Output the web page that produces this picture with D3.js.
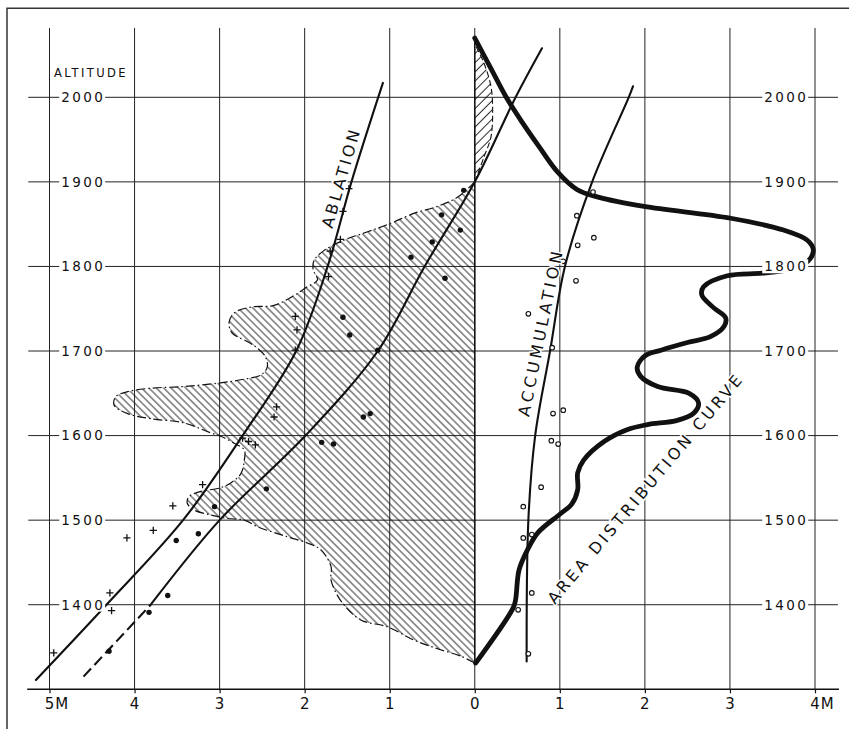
<!DOCTYPE html>
<html>
<head>
<meta charset="utf-8">
<script src="https://cdn.jsdelivr.net/npm/d3@7"></script>
<style>
  html, body { margin: 0; padding: 0; background: #fff; }
  svg { display: block; }
  text { font-family: "DejaVu Sans", "Liberation Sans", sans-serif; fill: #111; }
</style>
</head>
<body>
<script>
// Balance (m of water) on the horizontal axis, altitude (m) on the vertical axis.
const xTickValues = [-5, -4, -3, -2, -1, 0, 1, 2, 3, 4];
const xTickLabels = ["5M", "4", "3", "2", "1", "0", "1", "2", "3", "4M"];
const altitudeTicks = [1400, 1500, 1600, 1700, 1800, 1900, 2000];

// Ablation curve
const ablationCurve = [[-5.16, 1311], [-4.33, 1400], [-3.43, 1500], [-2.73, 1600],
  [-2.10, 1700], [-1.73, 1800], [-1.45, 1900], [-1.08, 2017]];

// Net balance curve (dashed where extrapolated below 1400 m)
const balanceCurveLow = [[-4.60, 1315], [-4.21, 1357], [-3.81, 1400]];
const balanceCurve = [[-3.81, 1400], [-3.00, 1500], [-1.99, 1600], [-1.14, 1700],
  [-0.59, 1800], [0, 1900], [0.48, 2000], [0.79, 2058]];

// Accumulation curve
const accumulationCurve = [[0.61, 1333], [0.63, 1500], [0.71, 1600], [0.885, 1700],
  [1.06, 1800], [1.38, 1900], [1.81, 2000], [1.86, 2013]];

// Area distribution curve (km² per altitude band)
const areaDistribution = [[0, 2070], [0.18, 2036], [0.37, 2000], [0.56, 1970], [0.76, 1941],
  [0.97, 1912], [1.20, 1891], [1.45, 1882], [1.99, 1871], [3.01, 1857], [3.63, 1843], [3.91, 1831],
  [3.98, 1820], [3.95, 1810], [3.86, 1802], [3.68, 1796], [3.38, 1792], [2.97, 1789],
  [2.69, 1776], [2.67, 1766], [2.81, 1751], [2.95, 1739], [2.93, 1729], [2.77, 1717],
  [2.50, 1710], [2.19, 1701], [2.01, 1695], [1.91, 1681], [1.95, 1670], [2.15, 1658],
  [2.52, 1650], [2.63, 1639], [2.58, 1627], [2.38, 1618], [2.03, 1613], [1.79, 1607],
  [1.52, 1593], [1.28, 1571], [1.21, 1556], [1.21, 1536], [1.14, 1519], [1.00, 1507],
  [0.74, 1485], [0.62, 1465], [0.52, 1441], [0.48, 1406], [0.45, 1396], [0.01, 1331]];

// Total balance zones (balance × area)
const negativeZone = [[0, 1900], [-0.20, 1882], [-0.44, 1871], [-0.71, 1863], [-0.99, 1851],
  [-1.26, 1841], [-1.54, 1831], [-1.77, 1819], [-1.89, 1807], [-1.90, 1796], [-1.85, 1784],
  [-1.97, 1776], [-2.12, 1766], [-2.36, 1754], [-2.63, 1752], [-2.83, 1745], [-2.89, 1733],
  [-2.85, 1721], [-2.67, 1711], [-2.55, 1703], [-2.46, 1693], [-2.44, 1681], [-2.51, 1672],
  [-2.75, 1666], [-3.02, 1662], [-3.42, 1658], [-3.81, 1656], [-4.08, 1652], [-4.22, 1646],
  [-4.24, 1636], [-4.08, 1626], [-3.81, 1620], [-3.42, 1615], [-3.10, 1603], [-2.98, 1599],
  [-2.83, 1591], [-2.71, 1583], [-2.71, 1571], [-2.75, 1555], [-2.87, 1544], [-3.00, 1538],
  [-3.22, 1534], [-3.36, 1528], [-3.38, 1520], [-3.30, 1512], [-3.10, 1506], [-2.91, 1502],
  [-2.71, 1500], [-2.55, 1492], [-2.32, 1484], [-2.16, 1479], [-1.97, 1473], [-1.81, 1465],
  [-1.69, 1445], [-1.69, 1429], [-1.57, 1404], [-1.34, 1382], [-1.03, 1374], [-0.71, 1358],
  [-0.44, 1348], [-0.16, 1339], [0, 1331]];
const positiveZone = [[0, 1900], [0.11, 1930], [0.19, 1953], [0.21, 1985], [0.19, 2013],
  [0.11, 2040], [0.01, 2062], [0, 2068]];

// Stake and pit measurements
const ablationStakes = [[-4.95, 1343], [-4.29, 1414], [-4.27, 1393], [-4.09, 1479], [-3.78, 1488],
  [-3.55, 1517], [-3.20, 1542], [-2.73, 1597], [-2.66, 1593], [-2.58, 1589], [-2.33, 1634],
  [-2.36, 1622], [-2.11, 1741], [-2.09, 1725], [-2.11, 1701], [-1.70, 1818], [-1.72, 1788],
  [-1.58, 1832], [-1.55, 1865], [-1.48, 1892]];
const balanceStakes = [[-4.30, 1345], [-3.83, 1391], [-3.61, 1411], [-3.51, 1476], [-3.25, 1484],
  [-3.06, 1516], [-2.45, 1537], [-1.80, 1592], [-1.66, 1590], [-1.31, 1622], [-1.23, 1626],
  [-1.14, 1701], [-1.55, 1740], [-1.47, 1719], [-0.75, 1811], [-0.35, 1786], [-0.50, 1829],
  [-0.39, 1861], [-0.17, 1843], [-0.13, 1890]];
const accumulationPits = [[0.63, 1342], [0.51, 1394], [0.67, 1414], [0.57, 1479], [0.67, 1483],
  [0.57, 1516], [0.78, 1539], [0.90, 1594], [0.98, 1590], [0.92, 1626], [1.04, 1630],
  [0.91, 1704], [0.63, 1744], [1.19, 1783], [1.04, 1806], [1.21, 1825], [1.39, 1888],
  [1.20, 1860], [1.40, 1834]];

// ---- layout ----
const W = 849, H = 729;
const x = d3.scaleLinear().domain([-5, 4]).range([49.5, 815]);
const y = d3.scaleLinear().domain([1300, 2000]).range([689.3, 97.3]);
const gridTop = 2082, gridLeft = -5.25, gridRight = 4.27;

const svg = d3.select("body").append("svg").attr("width", W).attr("height", H);

const defs = svg.append("defs");
defs.append("pattern").attr("id", "hatchNeg").attr("patternUnits", "userSpaceOnUse")
  .attr("width", 5.2).attr("height", 5.2).attr("patternTransform", "rotate(-45)")
  .append("line").attr("x1", 2.6).attr("x2", 2.6).attr("y1", -1).attr("y2", 7)
  .attr("stroke", "#111").attr("stroke-width", 0.85);
defs.append("pattern").attr("id", "hatchPos").attr("patternUnits", "userSpaceOnUse")
  .attr("width", 6.5).attr("height", 6.5).attr("patternTransform", "rotate(45)")
  .append("line").attr("x1", 3.2).attr("x2", 3.2).attr("y1", -1).attr("y2", 8)
  .attr("stroke", "#111").attr("stroke-width", 0.9);

// outer frame
svg.append("path").attr("d", "M7,729 V8.3 H849").attr("fill", "none")
  .attr("stroke", "#333").attr("stroke-width", 1.5);

// grid
const grid = svg.append("g").attr("stroke", "#222").attr("stroke-width", 1);
grid.selectAll("line.v").data(xTickValues).join("line").attr("class", "v")
  .attr("x1", d => x(d)).attr("x2", d => x(d))
  .attr("y1", y(gridTop)).attr("y2", y(1300));
grid.selectAll("line.h").data(altitudeTicks).join("line").attr("class", "h")
  .attr("x1", x(gridLeft)).attr("x2", x(gridRight))
  .attr("y1", d => y(d)).attr("y2", d => y(d));

// bottom axis
const axis = svg.append("g").attr("transform", `translate(0,${y(1300)})`)
  .call(d3.axisBottom(x).tickValues(xTickValues).tickSize(4).tickFormat(""));
axis.select(".domain").remove();
axis.selectAll(".tick line").attr("stroke", "#111").attr("stroke-width", 1.2);
svg.append("line").attr("x1", x(gridLeft) - 1).attr("x2", x(gridRight) + 1)
  .attr("y1", y(1300)).attr("y2", y(1300)).attr("stroke", "#111").attr("stroke-width", 1.6);
const bfs = 15;
svg.selectAll("text.xlab").data(xTickValues).join("text").attr("class", "xlab")
  .attr("x", d => x(d) - 0.318 * bfs).attr("y", 709)
  .attr("font-size", bfs).attr("letter-spacing", 1)
  .text((d, i) => xTickLabels[i]);

const lineGen = d3.line().x(d => x(d[0])).y(d => y(d[1]));
const smooth = d3.line().x(d => x(d[0])).y(d => y(d[1])).curve(d3.curveCatmullRom.alpha(0.5));

// hatched zones
svg.append("path").attr("d", smooth(negativeZone) + "Z").attr("fill", "url(#hatchNeg)");
svg.append("path").attr("d", smooth(positiveZone) + "Z").attr("fill", "url(#hatchPos)");
svg.append("path").attr("d", smooth(negativeZone)).attr("fill", "none")
  .attr("stroke", "#111").attr("stroke-width", 1.2).attr("stroke-dasharray", "9,3,1.5,3");
svg.append("path").attr("d", smooth(positiveZone)).attr("fill", "none")
  .attr("stroke", "#111").attr("stroke-width", 1.1).attr("stroke-dasharray", "6,3");
svg.append("line").attr("x1", x(0)).attr("x2", x(0))
  .attr("y1", y(1331)).attr("y2", y(2070)).attr("stroke", "#111").attr("stroke-width", 1.4);

// curves
const curves = svg.append("g").attr("fill", "none").attr("stroke", "#111").attr("stroke-linecap", "round");
curves.append("path").attr("d", smooth(ablationCurve)).attr("stroke-width", 2.1);
curves.append("path").attr("d", smooth(balanceCurve)).attr("stroke-width", 2.1);
curves.append("path").attr("d", lineGen(balanceCurveLow)).attr("stroke-width", 2.1)
  .attr("stroke-dasharray", "11,5").attr("stroke-linecap", "butt");
curves.append("path").attr("d", smooth(accumulationCurve)).attr("stroke-width", 2.1);
curves.append("path").attr("d", smooth(areaDistribution)).attr("stroke-width", 4.8)
  .attr("stroke-linejoin", "round");

// measurement markers
svg.append("g").selectAll("path").data(ablationStakes).join("path")
  .attr("transform", d => `translate(${x(d[0])},${y(d[1])})`)
  .attr("d", "M-3.6,0H3.6M0,-3.6V3.6").attr("stroke", "#111").attr("stroke-width", 1.3);
svg.append("g").selectAll("circle").data(balanceStakes).join("circle")
  .attr("cx", d => x(d[0])).attr("cy", d => y(d[1])).attr("r", 2.7).attr("fill", "#111");
svg.append("g").selectAll("circle").data(accumulationPits).join("circle")
  .attr("cx", d => x(d[0])).attr("cy", d => y(d[1])).attr("r", 2.3)
  .attr("fill", "#fff").attr("stroke", "#111").attr("stroke-width", 1.1);

// altitude labels on both sides
const afs = 13.5;
[82, 785].forEach(cx => {
  const g = svg.append("g");
  altitudeTicks.forEach(v => {
    const t = g.append("text").attr("x", cx).attr("y", y(v)).attr("dy", "0.36em")
      .attr("text-anchor", "middle").attr("font-size", afs).attr("letter-spacing", 2.4)
      .attr("dx", 1.2).text(v);
    const b = t.node().getBBox();
    g.insert("rect", "text").attr("x", b.x - 2).attr("y", b.y + 1)
      .attr("width", b.width + 2).attr("height", b.height - 2).attr("fill", "#fff");
  });
});

svg.append("text").attr("x", 54).attr("y", 76.7).attr("font-size", 11.5)
  .attr("letter-spacing", 2.4).text("ALTITUDE");

// curve names written along the curves
const curveLabels = [
  { text: "ABLATION", cx: 341, cy: 177.5, angle: -74, ls: 3 },
  { text: "ACCUMULATION", cx: 540.5, cy: 332, angle: -78.5, ls: 3.6 },
  { text: "AREA  DISTRIBUTION  CURVE", cx: 645.5, cy: 488, angle: -50, ls: 3.2 }
];
svg.selectAll("text.clab").data(curveLabels).join("text").attr("class", "clab")
  .attr("transform", d => `translate(${d.cx},${d.cy}) rotate(${d.angle})`)
  .attr("text-anchor", "middle").attr("dy", "0.36em").attr("font-size", 16)
  .attr("letter-spacing", d => d.ls)
  .attr("stroke", "#fff").attr("stroke-width", 3).attr("paint-order", "stroke")
  .text(d => d.text);
</script>
</body>
</html>
